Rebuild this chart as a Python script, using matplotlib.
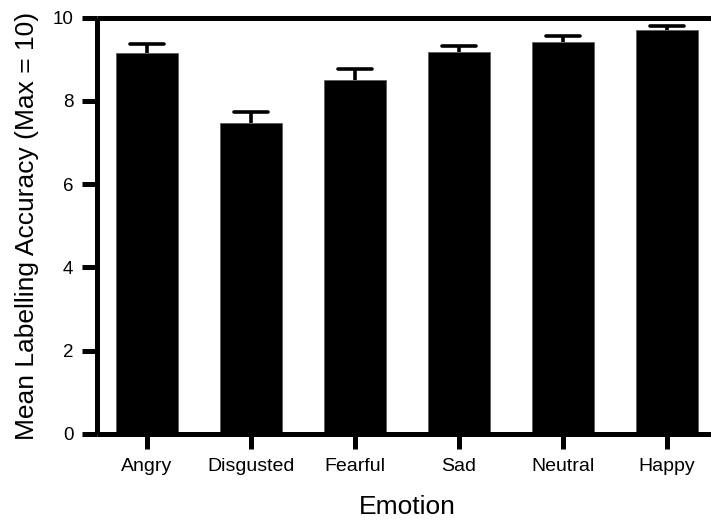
import matplotlib
matplotlib.use("Agg")
import matplotlib.pyplot as plt

categories = ["Angry", "Disgusted", "Fearful", "Sad", "Neutral", "Happy"]
means = [9.16, 7.47, 8.50, 9.17, 9.42, 9.71]
sems = [0.20, 0.26, 0.27, 0.14, 0.15, 0.10]
yticks = [0, 2, 4, 6, 8, 10]

plt.rcParams['font.family'] = ['Liberation Sans', 'DejaVu Sans']

fig = plt.figure(figsize=(7.11, 5.21), dpi=100)
W, H = 711, 521
left_px, right_px, top_px, bot_px = 97, 717, 17.7, 434
ax = fig.add_axes([left_px / W, 1 - bot_px / H, (right_px - left_px) / W, (bot_px - top_px) / H])

x = list(range(len(categories)))
lw = 3.6
ax.bar(x, means, width=0.6, color='black', edgecolor='#555555', linewidth=0.5, zorder=2)
tops = [m + s for m, s in zip(means, sems)]
ax.vlines(x, means, tops, color='black', linewidth=2.6, zorder=1)
ax.hlines(tops, [i - 0.16 for i in x], [i + 0.16 for i in x], color='black',
          linewidth=2.6, zorder=1, capstyle='round')

ax.set_xlim(-0.48, 5.48)
ax.set_ylim(0, 10)
ax.set_yticks(yticks)
ax.set_xticks(x)
ax.set_xticklabels(categories)

for s in ['left', 'top', 'bottom']:
    ax.spines[s].set_linewidth(lw)
    ax.spines[s].set_capstyle('butt')
ax.spines['right'].set_visible(False)
ax.spines['top'].set_zorder(5)

ax.tick_params(axis='y', length=11, width=lw, labelsize=13.5, pad=6)
ax.tick_params(axis='x', length=11, width=lw, labelsize=14, pad=6)

ax.set_xlabel("Emotion", fontsize=19, labelpad=15)
ax.set_ylabel("Mean Labelling Accuracy (Max = 10)", fontsize=19, labelpad=10)

fig.savefig("out.png", dpi=100)
